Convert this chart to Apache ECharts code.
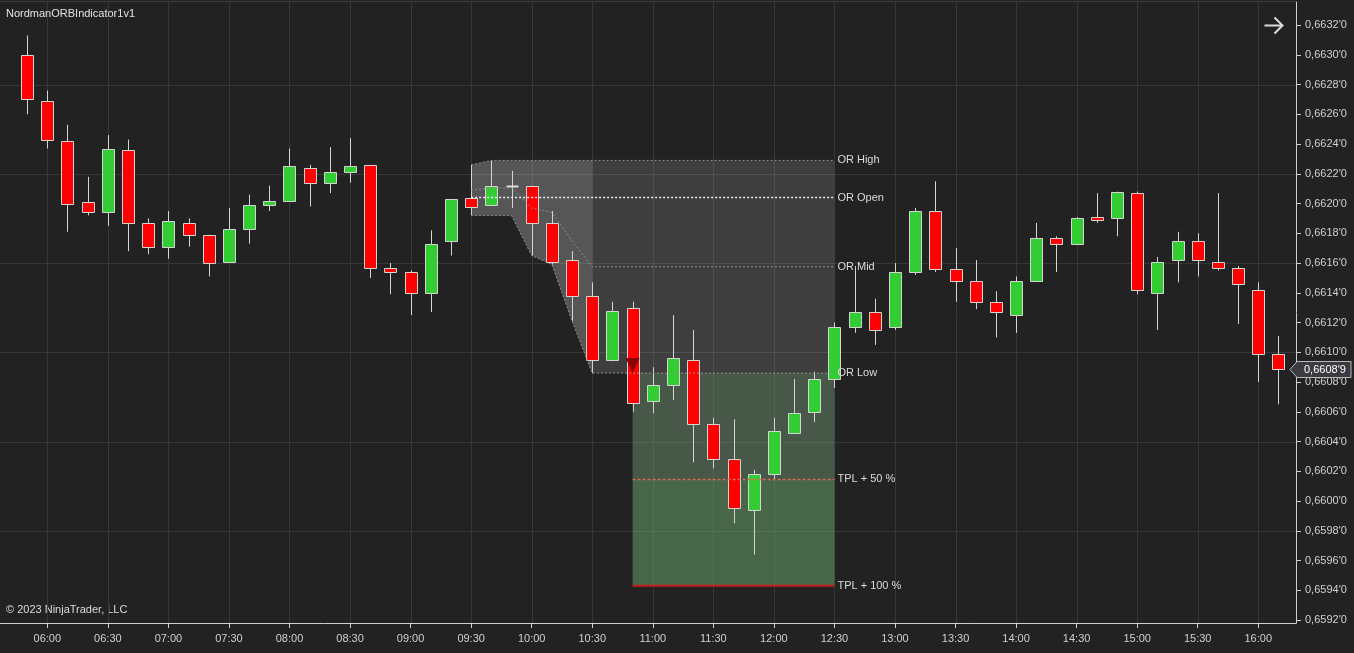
<!DOCTYPE html>
<html><head><meta charset="utf-8">
<script src="https://cdn.jsdelivr.net/npm/echarts@6/dist/echarts.min.js"></script>
<style>html,body{margin:0;padding:0;background:#222222;}#c{width:1354px;height:653px;}</style>
</head><body><div id="c"></div>
<script>
// ---- data ----
const times = ['05:50','06:00','06:10','06:20','06:30','06:40','06:50','07:00','07:10','07:20','07:30','07:40','07:50','08:00','08:10','08:20','08:30','08:40','08:50','09:00','09:10','09:20','09:30','09:40','09:50','10:00','10:10','10:20','10:30','10:40','10:50','11:00','11:10','11:20','11:30','11:40','11:50','12:00','12:10','12:20','12:30','12:40','12:50','13:00','13:10','13:20','13:30','13:40','13:50','14:00','14:10','14:20','14:30','14:40','14:50','15:00','15:10','15:20','15:30','15:40','15:50','16:00','16:10'];
const openP  = [0.66300,0.66269,0.66242,0.66201,0.66194,0.66236,0.66187,0.66171,0.66187,0.66179,0.66161,0.66183,0.66199,0.66202,0.66224,0.66214,0.66221,0.66226,0.66157,0.66154,0.66140,0.66175,0.66204,0.66199,0.66212,0.66212,0.66187,0.66162,0.66138,0.66095,0.66130,0.66067,0.66078,0.66095,0.66052,0.66028,0.65994,0.66018,0.66046,0.66060,0.66082,0.66117,0.66127,0.66117,0.66154,0.66195,0.66156,0.66148,0.66134,0.66125,0.66148,0.66177,0.66173,0.66191,0.66190,0.66207,0.66140,0.66162,0.66175,0.66161,0.66157,0.66142,0.66099];
const highP  = [0.66313,0.66276,0.66253,0.66218,0.66246,0.66243,0.66190,0.66195,0.66190,0.66179,0.66197,0.66206,0.66212,0.66237,0.66226,0.66238,0.66244,0.66226,0.66160,0.66155,0.66182,0.66203,0.66226,0.66229,0.66222,0.66212,0.66195,0.66168,0.66147,0.66134,0.66134,0.66090,0.66125,0.66115,0.66056,0.66055,0.66021,0.66056,0.66082,0.66087,0.66120,0.66158,0.66136,0.66160,0.66197,0.66215,0.66170,0.66162,0.66141,0.66151,0.66187,0.66178,0.66191,0.66207,0.66208,0.66208,0.66164,0.66181,0.66180,0.66207,0.66158,0.66147,0.66111];
const lowP   = [0.66260,0.66237,0.66181,0.66192,0.66185,0.66168,0.66166,0.66163,0.66171,0.66151,0.66161,0.66173,0.66195,0.66202,0.66198,0.66207,0.66214,0.66150,0.66139,0.66125,0.66127,0.66165,0.66192,0.66199,0.66197,0.66165,0.66159,0.66121,0.66086,0.66094,0.66060,0.66059,0.66068,0.66026,0.66022,0.65985,0.65964,0.66014,0.66046,0.66053,0.66076,0.66113,0.66105,0.66115,0.66152,0.66154,0.66134,0.66129,0.66110,0.66113,0.66148,0.66154,0.66173,0.66187,0.66178,0.66139,0.66115,0.66147,0.66151,0.66155,0.66119,0.66080,0.66065];
const closeP = [0.66270,0.66243,0.66200,0.66194,0.66237,0.66187,0.66171,0.66188,0.66179,0.66160,0.66183,0.66199,0.66202,0.66225,0.66214,0.66221,0.66225,0.66157,0.66154,0.66140,0.66173,0.66203,0.66198,0.66212,0.66212,0.66187,0.66161,0.66138,0.66095,0.66128,0.66066,0.66078,0.66096,0.66052,0.66028,0.65995,0.66018,0.66047,0.66059,0.66082,0.66117,0.66127,0.66115,0.66154,0.66195,0.66156,0.66148,0.66134,0.66127,0.66148,0.66177,0.66173,0.66190,0.66189,0.66208,0.66142,0.66161,0.66175,0.66162,0.66157,0.66146,0.66099,0.66089];
const xTickLabels = ['06:00','06:30','07:00','07:30','08:00','08:30','09:00','09:30','10:00','10:30','11:00','11:30','12:00','12:30','13:00','13:30','14:00','14:30','15:00','15:30','16:00'];
const yTickValues = [0.6592,0.6594,0.6596,0.6598,0.6600,0.6602,0.6604,0.6606,0.6608,0.6610,0.6612,0.6614,0.6616,0.6618,0.6620,0.6622,0.6624,0.6626,0.6628,0.6630,0.6632];
const yGridValues = [0.6598,0.6604,0.6610,0.6616,0.6622,0.6628];
const orStartTime = '09:30', orEndTime = '10:30', zoneEndTime = '12:30', signalTime = '10:50';

// ---- derived ----
const xMin = -1.344, xMax = 62.87, yMin = 0.659180, yMax = 0.663355;
const idx = t => times.indexOf(t);
const orS = idx(orStartTime), orE = idx(orEndTime), zE = idx(zoneEndTime), sig = idx(signalTime);
let orHigh = -Infinity, orLow = Infinity; const runHigh = [], runLow = [];
for (let i = orS; i <= orE; i++) { orHigh = Math.max(orHigh, highP[i]); orLow = Math.min(orLow, lowP[i]); runHigh.push(orHigh); runLow.push(orLow); }
const orOpen = openP[orS], orMid = (orHigh + orLow) / 2, orRange = orHigh - orLow;
const tp50 = orLow - 0.5 * orRange, tp100 = orLow - orRange;
const lastClose = closeP[closeP.length - 1];
const FONT = '11px "Liberation Sans", Arial, sans-serif';
const fmtPrice = v => { const s = v.toFixed(5); return '0,' + s.slice(2, 6) + "'" + s.slice(6); };

const candleData = times.map((t, i) => [i, openP[i], closeP[i], lowP[i], highP[i]]);

function renderCandle(params, api) {
  const x = api.value(0), o = api.value(1), c = api.value(2), l = api.value(3), h = api.value(4);
  const po = api.coord([x, o]), pc = api.coord([x, c]), pl = api.coord([x, l]), ph = api.coord([x, h]);
  const w = Math.round(api.size([1, 0])[0] * 0.6);
  const cx = Math.round(po[0]) + 0.5;
  const top = Math.round(Math.min(po[1], pc[1])) + 0.5, bot = Math.round(Math.max(po[1], pc[1])) + 0.5;
  const ch = [{ type: 'line', shape: { x1: cx, y1: ph[1], x2: cx, y2: pl[1] }, style: { stroke: '#d4d4d4', lineWidth: 1 } }];
  if (c === o) {
    ch.push({ type: 'line', shape: { x1: cx - w / 2, y1: top, x2: cx + w / 2, y2: top }, style: { stroke: '#dcdcdc', lineWidth: 2 } });
  } else {
    ch.push({ type: 'rect', shape: { x: cx - w / 2, y: top, width: w, height: bot - top }, style: { fill: c > o ? '#32cd32' : '#ff0000', stroke: '#d4d4d4', lineWidth: 1 } });
  }
  return { type: 'group', children: ch };
}

function renderBack(params, api) {
  const cs = params.coordSys; const ch = []; const gl = '#373737';
  yGridValues.forEach(v => { const y = Math.round(api.coord([0, v])[1]) + 0.5; ch.push({ type: 'line', shape: { x1: cs.x, y1: y, x2: cs.x + cs.width, y2: y }, style: { stroke: gl, lineWidth: 1 } }); });
  xTickLabels.forEach(t => { const x = Math.round(api.coord([idx(t), yMin])[0]) + 0.5; ch.push({ type: 'line', shape: { x1: x, y1: cs.y, x2: x, y2: cs.y + cs.height }, style: { stroke: gl, lineWidth: 1 } }); });
  const b1 = api.coord([orE, orHigh]), b2 = api.coord([zE, orLow]);
  ch.push({ type: 'rect', shape: { x: b1[0], y: b1[1], width: b2[0] - b1[0], height: b2[1] - b1[1] }, style: { fill: 'rgba(255,255,255,0.13)' } });
  const pts = [];
  for (let k = 0; k < runHigh.length; k++) pts.push(api.coord([orS + k, runHigh[k]]));
  for (let k = runLow.length - 1; k >= 0; k--) pts.push(api.coord([orS + k, runLow[k]]));
  ch.push({ type: 'polygon', shape: { points: pts }, style: { fill: 'rgba(255,255,255,0.24)' } });
  const g1 = api.coord([sig, orLow]), g2 = api.coord([zE, tp50]), g3 = api.coord([zE, tp100]);
  ch.push({ type: 'rect', shape: { x: g1[0], y: g1[1], width: g2[0] - g1[0], height: g2[1] - g1[1] }, style: { fill: 'rgba(118,156,120,0.45)' } });
  ch.push({ type: 'rect', shape: { x: g1[0], y: g2[1], width: g2[0] - g1[0], height: g3[1] - g2[1] }, style: { fill: 'rgba(118,186,118,0.46)' } });
  return { type: 'group', children: ch };
}

function renderFront(params, api) {
  const ch = [];
  const pl = (pts, stroke, w, dash) => ch.push({ type: 'polyline', shape: { points: pts }, style: { stroke: stroke, lineWidth: w, lineDash: dash, fill: null } });
  const hp = [], lp = [], mp = [];
  for (let k = 0; k < runHigh.length; k++) {
    hp.push(api.coord([orS + k, runHigh[k]])); lp.push(api.coord([orS + k, runLow[k]])); mp.push(api.coord([orS + k, (runHigh[k] + runLow[k]) / 2]));
  }
  hp.push(api.coord([zE, orHigh])); lp.push(api.coord([zE, orLow])); mp.push(api.coord([zE, orMid]));
  pl(hp, '#8e8e8e', 1, [2, 2]); pl(lp, '#8e8e8e', 1, [2, 2]); pl(mp, '#8e8e8e', 1, [2, 2]);
  pl([api.coord([orS, orOpen]), api.coord([zE, orOpen])], '#ececec', 1.5, [2, 2]);
  pl([api.coord([sig, tp50]), api.coord([zE, tp50])], '#d86a58', 1.5, [3, 2]);
  pl([api.coord([sig, tp100]), api.coord([zE, tp100])], '#c41c1c', 2, null);
  [[orHigh, 'OR High'], [orOpen, 'OR Open'], [orMid, 'OR Mid'], [orLow, 'OR Low'], [tp50, 'TPL + 50 %'], [tp100, 'TPL + 100 %']].forEach(([v, name]) => {
    const p = api.coord([zE, v]);
    ch.push({ type: 'text', x: p[0] + 3, y: p[1], style: { text: name, fill: '#dadada', font: FONT, verticalAlign: 'middle', align: 'left' } });
  });
  const t = api.coord([sig, orLow]);
  ch.push({ type: 'polygon', shape: { points: [[t[0] - 7, t[1] - 15], [t[0] + 7, t[1] - 15], [t[0], t[1]]] }, style: { fill: '#8b0000' } });
  const m = api.coord([xMax, lastClose]);
  const my = Math.round(m[1]) + 0.5, mx = Math.round(m[0]);
  ch.push({ type: 'polygon', shape: { points: [[mx - 6, my], [mx + 1, my - 8], [mx + 55, my - 8], [mx + 55, my + 8], [mx + 1, my + 8]] }, style: { fill: '#3b3b42', stroke: '#b8b8b8', lineWidth: 1 } });
  ch.push({ type: 'text', x: mx + 8, y: my, style: { text: fmtPrice(lastClose), fill: '#ffffff', font: FONT, verticalAlign: 'middle', align: 'left' } });
  return { type: 'group', children: ch };
}

const chart = echarts.init(document.getElementById('c'));
chart.setOption({
  backgroundColor: '#222222',
  animation: false,
  title: { text: 'NordmanORBIndicator1v1', left: 6, top: 8, padding: 0, textStyle: { color: '#e2e2e2', fontSize: 11, fontWeight: 'normal', fontFamily: 'Liberation Sans' } },
  graphic: [
    { type: 'text', left: 6, top: 604, style: { text: '© 2023 NinjaTrader, LLC', fill: '#dcdcdc', font: FONT } },
    { type: 'group', left: 1262, top: 15, children: [
      { type: 'line', shape: { x1: 0, y1: 9, x2: 18, y2: 9 }, style: { stroke: '#dcdcdc', lineWidth: 2 } },
      { type: 'polyline', shape: { points: [[10, 1], [18, 9], [10, 17]] }, style: { stroke: '#dcdcdc', lineWidth: 2, fill: null } }
    ] },
    { type: 'line', shape: { x1: 0, y1: 1.5, x2: 1296, y2: 1.5 }, style: { stroke: '#3a3a3a', lineWidth: 1 } }
  ],
  grid: { left: 0, right: 58, top: 2, bottom: 30, containLabel: false },
  xAxis: {
    type: 'value', min: xMin, max: xMax,
    axisLine: { show: true, onZero: false, lineStyle: { color: '#d0d0d0', width: 1 } },
    axisTick: { show: true, length: 5, lineStyle: { color: '#d0d0d0' }, customValues: xTickLabels.map(idx) },
    axisLabel: { color: '#d0d0d0', fontSize: 11, fontFamily: 'Liberation Sans', margin: 10, customValues: xTickLabels.map(idx), formatter: v => times[Math.round(v)] },
    splitLine: { show: false }
  },
  yAxis: {
    type: 'value', position: 'right', min: yMin, max: yMax, scale: true,
    axisLine: { show: true, onZero: false, lineStyle: { color: '#d0d0d0', width: 1 } },
    axisTick: { show: true, length: 5, lineStyle: { color: '#d0d0d0' }, customValues: yTickValues },
    axisLabel: { color: '#d0d0d0', fontSize: 11, fontFamily: 'Liberation Sans', margin: 9, customValues: yTickValues, formatter: fmtPrice },
    splitLine: { show: false }
  },
  series: [
    { type: 'custom', name: 'back', z: 1, silent: true, renderItem: renderBack, data: [[0, 0.661]] },
    { type: 'custom', name: 'candles', z: 2, renderItem: renderCandle, encode: { x: 0, y: [1, 2, 3, 4] }, data: candleData },
    { type: 'custom', name: 'front', z: 3, clip: false, silent: true, renderItem: renderFront, data: [[0, 0.661]] }
  ]
});
</script></body></html>
